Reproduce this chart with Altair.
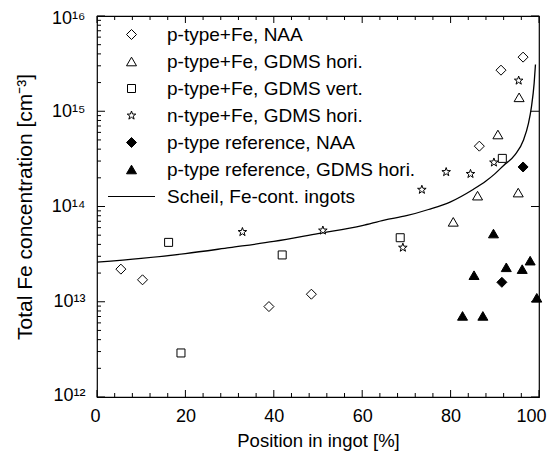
import altair as alt
import pandas as pd

# ---- data ----
series_names = [
    "p-type+Fe, NAA",
    "p-type+Fe, GDMS hori.",
    "p-type+Fe, GDMS vert.",
    "n-type+Fe, GDMS hori.",
    "p-type reference, NAA",
    "p-type reference, GDMS hori.",
    "Scheil, Fe-cont. ingots",
]

naa_x = [5.4, 10.3, 38.9, 48.5, 86.5, 91.4, 96.4]
naa_y = [2.2e13, 1.7e13, 8.9e12, 1.2e13, 4.3e14, 2.7e15, 3.7e15]

gh_x = [80.6, 86.1, 90.7, 95.3, 95.5]
gh_y = [6.9e13, 1.3e14, 5.7e14, 1.4e14, 1.4e15]

gv_x = [16.2, 19.0, 41.9, 68.6, 91.7]
gv_y = [4.2e13, 2.9e12, 3.1e13, 4.7e13, 3.2e14]

n_x = [32.9, 51.1, 69.2, 73.5, 79.0, 84.5, 89.8, 95.4]
n_y = [5.4e13, 5.6e13, 3.7e13, 1.5e14, 2.3e14, 2.2e14, 2.9e14, 2.1e15]

rn_x = [91.6, 96.4]
rn_y = [1.6e13, 2.6e14]

rg_x = [82.7, 85.3, 87.3, 89.7, 92.6, 96.2, 98.0, 99.5]
rg_y = [7.1e12, 1.9e13, 7.1e12, 5.2e13, 2.3e13, 2.2e13, 2.7e13, 1.1e13]

scheil_x = [0, 10, 20, 30, 40, 50, 60, 65, 70, 75, 80, 85, 88, 90, 92, 94.6, 96.5, 97.6, 98.3, 98.9, 99.2]
scheil_y = [2.6e13, 2.85e13, 3.2e13, 3.7e13, 4.3e13, 5.2e13, 6.3e13, 7.2e13, 8.0e13, 9.3e13,
            1.12e14, 1.5e14, 1.85e14, 2.2e14, 2.7e14, 3.5e14, 5.0e14, 7.4e14, 1.12e15, 1.96e15, 3.1e15]

x_major = [0, 20, 40, 60, 80, 100]
x_minor = [4, 8, 12, 16, 24, 28, 32, 36, 44, 48, 52, 56, 64, 68, 72, 76, 84, 88, 92, 96]
y_major = [1e12, 1e13, 1e14, 1e15, 1e16]
y_minor = [m * 10.0 ** e for e in (12, 13, 14, 15) for m in range(2, 10)]

# ---- tables ----
pts = []
for name, xs, ys in [
    (series_names[0], naa_x, naa_y),
    (series_names[1], gh_x, gh_y),
    (series_names[2], gv_x, gv_y),
    (series_names[3], n_x, n_y),
    (series_names[4], rn_x, rn_y),
    (series_names[5], rg_x, rg_y),
]:
    for xv, yv in zip(xs, ys):
        pts.append({"series": name, "x": xv, "y": yv})
pts_df = pd.DataFrame(pts)
scheil_df = pd.DataFrame({"x": scheil_x, "y": scheil_y})

W, H = 442, 381

star = ("M0,-0.9L0.212,-0.291L0.856,-0.278L0.342,0.111L0.529,0.728L0,0.36"
        "L-0.529,0.728L-0.342,0.111L-0.856,-0.278L-0.212,-0.291Z")
shapes = [
    "M0,-1L1,0L0,1L-1,0Z",
    "M0,-0.86L1,0.86L-1,0.86Z",
    "M-0.8,-0.8L0.8,-0.8L0.8,0.8L-0.8,0.8Z",
    star,
    "M0,-1L1,0L0,1L-1,0Z",
    "M0,-0.86L1,0.86L-1,0.86Z",
    "M-4.7,0L4.7,0",
]
fills = ["white", "white", "white", "white", "black", "black", "white"]
strokes = ["black"] * 7

xscale = alt.Scale(domain=[0, 100], nice=False, zero=False)
yscale = alt.Scale(type="log", domain=[1e12, 1e16], nice=False)

label_expr = "'10' + ['\u00b9\u00b2','\u00b9\u00b3','\u00b9\u2074','\u00b9\u2075','\u00b9\u2076'][round(log(datum.value)/LN10) - 12]"

line = alt.Chart(scheil_df).mark_line(color="black", strokeWidth=1.3, interpolate="monotone").encode(
    x=alt.X("x:Q", scale=xscale,
            axis=alt.Axis(title="Position in ingot [%]", values=x_major, ticks=False, grid=False,
                          domain=False, labelFontSize=18, labelPadding=10, titleFontSize=18.5,
                          titlePadding=6, labelColor="black", titleColor="black",
                          titleFontWeight="normal", labelFont="Liberation Sans",
                          titleFont="Liberation Sans", labelFlush=True, labelFlushOffset=7)),
    y=alt.Y("y:Q", scale=yscale,
            axis=alt.Axis(title="Total Fe concentration [cm\u207b\u00b3]", values=y_major, ticks=False,
                          grid=False, domain=False, labelExpr=label_expr, labelFontSize=18,
                          labelPadding=12, titleFontSize=21, titlePadding=16, labelColor="black",
                          titleColor="black", titleFontWeight="normal", labelFont="Liberation Sans",
                          titleFont="Liberation Sans", labelFlush=True, labelFlushOffset=7)),
)

legend_kw = dict(title=None, orient="none", legendX=25, legendY=9,
                 labelFontSize=19, labelFont="Liberation Sans", labelColor="black", labelOffset=26,
                 rowPadding=7, padding=0, symbolStrokeWidth=1,
                 symbolOpacity=1, symbolSize=100, labelLimit=400)

points = alt.Chart(pts_df).mark_point(filled=False, strokeWidth=1,
                                      opacity=1, fillOpacity=1, size=100).encode(
    x=alt.X("x:Q", scale=xscale),
    y=alt.Y("y:Q", scale=yscale),
    shape=alt.Shape("series:N", scale=alt.Scale(domain=series_names, range=shapes),
                    legend=alt.Legend(**legend_kw)),
    fill=alt.Fill("series:N", scale=alt.Scale(domain=series_names, range=fills),
                  legend=alt.Legend(**legend_kw)),
    stroke=alt.Stroke("series:N", scale=alt.Scale(domain=series_names, range=strokes),
                      legend=alt.Legend(**legend_kw)),
)

def tick_layer(values, length, side):
    df = pd.DataFrame({"v": values})
    c = alt.Chart(df).mark_rule(color="black", strokeWidth=1)
    if side == "bottom":
        return c.encode(x=alt.X("v:Q", scale=xscale), y=alt.value(H), y2=alt.value(H - length))
    if side == "top":
        return c.encode(x=alt.X("v:Q", scale=xscale), y=alt.value(0), y2=alt.value(length))
    if side == "left":
        return c.encode(y=alt.Y("v:Q", scale=yscale), x=alt.value(0), x2=alt.value(length))
    return c.encode(y=alt.Y("v:Q", scale=yscale), x=alt.value(W), x2=alt.value(W - length))

ticks = [
    tick_layer(x_major, 7, "bottom"),
    tick_layer(x_minor, 4, "bottom"),
    tick_layer(x_major, 7, "top"),
    tick_layer(x_minor, 4, "top"),
    tick_layer(y_major, 8, "left"),
    tick_layer(y_minor, 4, "left"),
    tick_layer(y_major, 8, "right"),
]

chart = alt.layer(line, points, *ticks).properties(
    width=W, height=H,
    padding={"left": 89, "top": 8, "right": 9, "bottom": 60},
    autosize=alt.AutoSizeParams(type="none"),
).configure(font="Liberation Sans").configure_view(stroke="black", strokeWidth=1.2)

chart.save("out.html", embed_options={"renderer": "svg", "actions": False})
